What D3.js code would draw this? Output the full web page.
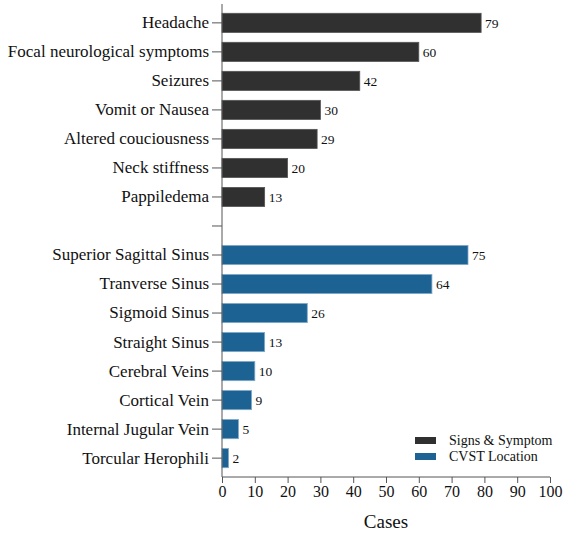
<!DOCTYPE html>
<html>
<head>
<meta charset="utf-8">
<script src="https://cdn.jsdelivr.net/npm/d3@7"></script>
<style>
  body { margin: 0; background: #fff; }
  text { font-family: "Liberation Serif", "Times New Roman", serif; }
</style>
</head>
<body>
<script>
// signs & symptoms group
var symptoms = ["Headache", "Focal neurological symptoms", "Seizures", "Vomit or Nausea",
                "Altered couciousness", "Neck stiffness", "Pappiledema"];
var symptomCases = [79, 60, 42, 30, 29, 20, 13];

// CVST location group
var locations = ["Superior Sagittal Sinus", "Tranverse Sinus", "Sigmoid Sinus", "Straight Sinus",
                 "Cerebral Veins", "Cortical Vein", "Internal Jugular Vein", "Torcular Herophili"];
var locationCases = [75, 64, 26, 13, 10, 9, 5, 2];

var xTicks = [0, 10, 20, 30, 40, 50, 60, 70, 80, 90, 100];
var groups = ["Signs & Symptom", "CVST Location"];
var colors = ["#303030", "#1c6393"];
var edges = ["#555555", "#7fa9c8"];

var w = 567, h = 536;
var x0 = 222, x1 = 550, y0 = 4, y1 = 477; // plot area edges

var gap = " "; // empty slot between the two groups
var rows = [];
symptoms.forEach(function(d, i) { rows.push({ name: d, value: symptomCases[i], g: 0 }); });
rows.push({ name: gap, value: null, g: -1 });
locations.forEach(function(d, i) { rows.push({ name: d, value: locationCases[i], g: 1 }); });

var svg = d3.select("body").append("svg")
    .attr("width", w)
    .attr("height", h);

var x = d3.scaleLinear().domain([0, 100]).range([x0, x1]);
var y = d3.scaleBand()
    .domain(rows.map(function(d) { return d.name; }))
    .range([y0, y1])
    .paddingInner(0.34)
    .paddingOuter(0.32);

var bars = rows.filter(function(d) { return d.value !== null; });

svg.selectAll("rect.bar")
    .data(bars)
    .enter()
    .append("rect")
    .attr("class", "bar")
    .attr("x", x(0))
    .attr("y", function(d) { return y(d.name); })
    .attr("width", function(d) { return x(d.value) - x(0); })
    .attr("height", y.bandwidth())
    .attr("fill", function(d) { return colors[d.g]; })
    .attr("stroke", function(d) { return edges[d.g]; })
    .attr("stroke-width", 0.8);

svg.selectAll("text.val")
    .data(bars)
    .enter()
    .append("text")
    .attr("class", "val")
    .attr("x", function(d) { return x(d.value) + 4; })
    .attr("y", function(d) { return y(d.name) + y.bandwidth() / 2; })
    .attr("dy", "0.35em")
    .attr("font-size", "13.5px")
    .attr("fill", "#111")
    .text(function(d) { return d.value; });

// axes
var yAxis = d3.axisLeft(y).tickSize(10).tickPadding(3);
var gy = svg.append("g")
    .attr("transform", "translate(" + x0 + ",0)")
    .call(yAxis);
gy.select(".domain").attr("stroke", "#555").attr("d", "M0," + y0 + "V" + y1);
gy.selectAll(".tick line").attr("stroke", "#555");
gy.selectAll(".tick text")
    .attr("font-family", "Liberation Serif, serif")
    .attr("font-size", "17px")
    .attr("fill", "#111");

var xAxis = d3.axisBottom(x).tickValues(xTicks).tickSize(6).tickPadding(3);
var gx = svg.append("g")
    .attr("transform", "translate(0," + y1 + ")")
    .call(xAxis);
gx.select(".domain").attr("stroke", "#555").attr("d", "M" + x0 + ",0H" + x1);
gx.selectAll(".tick line").attr("stroke", "#555");
gx.selectAll(".tick text")
    .attr("font-family", "Liberation Serif, serif")
    .attr("font-size", "16px")
    .attr("fill", "#111");

// X axis label
svg.append("text")
    .attr("text-anchor", "middle")
    .attr("x", (x0 + x1) / 2)
    .attr("y", 528)
    .attr("font-size", "19px")
    .attr("fill", "#111")
    .text("Cases");

// legend
var legend = svg.append("g").attr("transform", "translate(415,437)");
groups.forEach(function(name, i) {
    legend.append("rect")
        .attr("x", 0)
        .attr("y", i * 16)
        .attr("width", 21)
        .attr("height", 7)
        .attr("fill", colors[i]);
    legend.append("text")
        .attr("x", 34)
        .attr("y", i * 16 + 3.5)
        .attr("dy", "0.35em")
        .attr("font-size", "14px")
        .attr("fill", "#111")
        .text(name);
});
</script>
</body>
</html>
